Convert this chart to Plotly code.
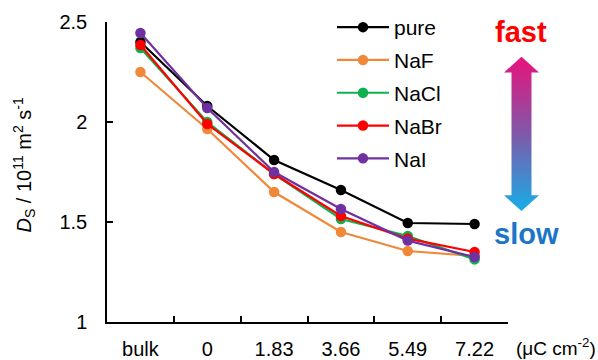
import plotly.graph_objects as go

categories = ["bulk", "0", "1.83", "3.66", "5.49", "7.22"]
series_names = ["pure", "NaF", "NaCl", "NaBr", "NaI"]
pure = [2.40, 2.08, 1.81, 1.66, 1.495, 1.49]
naf = [2.25, 1.965, 1.65, 1.45, 1.355, 1.33]
nacl = [2.37, 2.00, 1.74, 1.515, 1.43, 1.313]
nabr = [2.385, 1.99, 1.74, 1.53, 1.417, 1.35]
nai = [2.445, 2.07, 1.75, 1.565, 1.407, 1.325]
colors = ["#000000", "#F0883A", "#10B050", "#FF0000", "#7030A0"]
values = [pure, naf, nacl, nabr, nai]

FONT = "Arial, Liberation Sans, sans-serif"
W, H = 598, 360
L, R, T, B = 107, 0, 22, 35
plot_w = W - L - R
axis_end = 508

fig = go.Figure()
for i, (name, vals, col) in enumerate(zip(series_names, values, colors)):
    fig.add_trace(go.Scatter(
        x=categories, y=vals, name=name, mode="lines+markers",
        line=dict(color=col, width=2.2), marker=dict(color=col, size=10.5),
        legendgroup=name, cliponaxis=False,
    ))

# decorative gradient double arrow (free axes in pixel units)
ax_x, top_tip, top_base, bot_base, bot_tip = 521.5, 57, 73, 197, 213
hw, sw = 17.5, 10
arrow_x = [ax_x, ax_x + hw, ax_x + sw, ax_x + sw, ax_x + hw, ax_x, ax_x - hw, ax_x - sw, ax_x - sw, ax_x - hw, ax_x]
arrow_y = [top_tip, top_base, top_base, bot_base, bot_base, bot_tip, bot_base, bot_base, top_base, top_base, top_tip]
fig.add_trace(go.Scatter(
    x=arrow_x, y=arrow_y, xaxis="x2", yaxis="y2", mode="lines", fill="toself",
    line=dict(width=0, color="rgba(0,0,0,0)"), showlegend=False, hoverinfo="skip",
    fillgradient=dict(type="vertical", start=top_tip, stop=bot_tip,
                      colorscale=[[0, "#E8127C"], [0.5, "#7E5AAA"], [1, "#14B0EA"]]),
))

fig.update_layout(
    width=W, height=H, margin=dict(l=L, r=R, t=T, b=B),
    paper_bgcolor="white", plot_bgcolor="rgba(0,0,0,0)",
    font=dict(family=FONT, size=20, color="#000000"),
    showlegend=True,
    legend=dict(x=(332 - L) / plot_w, y=1.05, xanchor="left", yanchor="top",
                bgcolor="rgba(0,0,0,0)", font=dict(size=21, family=FONT),
                tracegroupgap=2.5, itemwidth=52),
    xaxis=dict(type="category", domain=[0, (axis_end - L) / plot_w], range=[-0.5, 5.5],
               showline=True, linecolor="#000000", linewidth=1.5, showgrid=False,
               ticks="inside", ticklen=6, tickwidth=1.5, tickcolor="#000000",
               tickson="boundaries", ticklabelstandoff=8, zeroline=False,
               tickfont=dict(size=20, family=FONT)),
    yaxis=dict(range=[1, 2.5], tickvals=[1, 1.5, 2, 2.5], ticktext=["1", "1.5", "2", "2.5"],
               showline=True, linecolor="#000000", linewidth=1.5, showgrid=False,
               ticks="inside", ticklen=6, tickwidth=1.5, tickcolor="#000000",
               ticklabelstandoff=14, zeroline=False, tickfont=dict(size=20, family=FONT)),
    xaxis2=dict(domain=[0, 1], range=[L, W - R], anchor="y2", visible=False, fixedrange=True),
    yaxis2=dict(domain=[0, 1], range=[H - B, T], anchor="x2", visible=False, fixedrange=True),
)

fig.add_annotation(text="<i>D</i><sub>S</sub> / 10<sup>11</sup> m<sup>2</sup> s<sup>-1</sup>",
                   xref="paper", yref="paper", x=-(L - 24) / plot_w, y=0.525, textangle=-90,
                   showarrow=False, font=dict(size=20, family=FONT), xanchor="center", yanchor="middle")
fig.add_annotation(text="(μC cm<sup>-2</sup>)", xref="paper", yref="paper",
                   x=1.0, y=-(350 - (H - B)) / (H - T - B), xanchor="right", yanchor="middle",
                   showarrow=False, font=dict(size=19, family=FONT))
fig.add_annotation(text="<b>fast</b>", xref="x2", yref="y2", x=521, y=32, showarrow=False,
                   font=dict(size=29, family=FONT, color="#FF0000"), xanchor="center", yanchor="middle")
fig.add_annotation(text="<b>slow</b>", xref="x2", yref="y2", x=526, y=236, showarrow=False,
                   font=dict(size=29, family=FONT, color="#1B75C8"), xanchor="center", yanchor="middle")

fig.write_html("out.html")
